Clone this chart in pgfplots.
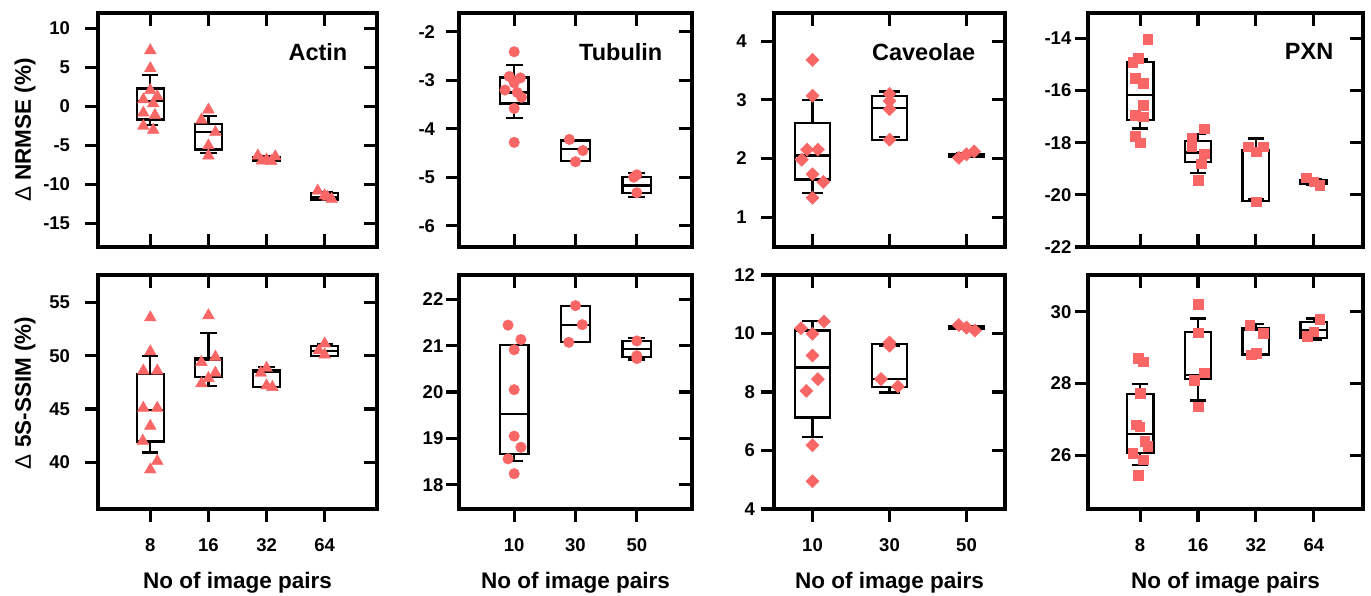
\documentclass[border=0pt]{standalone}
\usepackage{fontspec}
\setmainfont{Liberation Sans}
\usepackage{pgfplots}
\pgfplotsset{compat=1.18}
\usepgfplotslibrary{statistics}
\definecolor{pred}{RGB}{248,102,102}
\pgfplotsset{
 base/.style={
   scale only axis, anchor=south west, height=234pt, clip=false,
   line width=3.4pt,
   axis line style={line width=3.4pt, line cap=rect},
   every outer x axis line/.append style={line width=3.4pt},
   every outer y axis line/.append style={line width=3.4pt},
   tick style={black, line width=3.1pt},
   major tick length=13pt,
   ticklabel style={font=\fontsize{18.5}{20}\selectfont\bfseries, inner sep=2pt},
   /pgf/number format/assume math mode=true,
   boxplot/draw direction=y,
   boxplot/box extend=0.47, boxplot/whisker extend=0.28,
 },
 c1/.style={xmin=0.1,xmax=4.9,width=279pt,xtick={1,2,3,4}},
 c2/.style={xmin=0.1,xmax=3.9,width=233pt,xtick={1,2,3}},
 c3/.style={xmin=0.5,xmax=3.5,width=231pt,xtick={1,2,3}},
 c4/.style={xmin=0.1,xmax=4.85,width=275pt,xtick={1,2,3,4}},
 mainTop/.style={ytick pos=left, tick align=outside, xmajorticks=false, xticklabels={}},
 mainBot/.style={ytick pos=left, xtick pos=lower, tick align=outside, xticklabel style={yshift=-13pt}},
 ovrTop/.style={tick align=inside, xtick pos=both, ytick pos=right, xticklabels={}, yticklabels={}},
 ovrBot/.style={tick align=inside, xtick pos=upper, ytick pos=right, xticklabels={}, yticklabels={}},
 pts/.style={only marks, color=pred, line width=0.4pt, mark options={solid, fill=pred, draw=pred, line width=0.4pt}},
 tri/.style={pts, mark=triangle*, mark size=6.8pt},
 cir/.style={pts, mark=*, mark size=5.3pt},
 dia/.style={pts, mark=square*, mark size=4.7pt, mark options={rotate=45}},
 sqr/.style={pts, mark=square*, mark size=4.8pt},
 boxst/.style={draw=black, line width=2.2pt, mark=none, solid},
}
\newcommand{\bx}[6]{\addplot[boxst, boxplot prepared={draw position=#1, lower whisker=#2, lower quartile=#3, median=#4, upper quartile=#5, upper whisker=#6}] coordinates {};}
\newcommand{\ttl}[1]{\node[anchor=north east, inner sep=0pt, font=\fontsize{23.5}{25}\selectfont\bfseries, xshift=-28pt, yshift=-29pt] at (rel axis cs:1,1) {#1};}
\begin{document}
\begin{tikzpicture}
\path[use as bounding box] (0,0) rectangle (1371pt,595pt);
% ---------------- Panel 1: Actin NRMSE
\begin{axis}[base, c1, mainTop, at={(98pt,348pt)}, ymin=-18, ymax=12, ytick={-15,-10,-5,0,5,10}, yticklabel style={xshift=-11.3pt}]
\addplot[tri] coordinates {(1.00,7.2) (1.00,4.9) (1.00,2.1) (1.12,1.3) (0.88,0.9) (1.05,0.4) (0.88,-0.8) (1.08,-1.1) (0.88,-2.5) (1.05,-3.0)};
\addplot[tri] coordinates {(2.0,-0.4) (1.88,-1.7) (2.12,-3.3) (2.0,-5.0) (2.0,-6.3)};
\addplot[tri] coordinates {(2.85,-6.3) (3.0,-6.8) (3.15,-6.4) (3.08,-7.0) (2.92,-6.95)};
\addplot[tri] coordinates {(3.88,-10.8) (4.0,-11.4) (4.12,-11.85) (4.05,-11.6)};
\bx{1}{-2.37}{-1.65}{0.7}{2.32}{4.03}
\bx{2}{-5.9}{-5.49}{-3.27}{-2.2}{-1.22}
\bx{3}{-7.1}{-7.0}{-6.8}{-6.5}{-6.4}
\bx{4}{-11.95}{-11.9}{-11.55}{-11.1}{-11.0}
\ttl{Actin}
\end{axis}
\begin{axis}[base, c1, ovrTop, at={(98pt,348pt)}, ymin=-18, ymax=12, ytick={-15,-10,-5,0,5,10}]
\end{axis}
% ---------------- Panel 2: Tubulin NRMSE
\begin{axis}[base, c2, mainTop, at={(459pt,348pt)}, ymin=-6.44, ymax=-1.61, ytick={-6,-5,-4,-3,-2}, yticklabel style={xshift=-7.3pt}]
\addplot[cir] coordinates {(1.0,-2.41) (0.92,-2.92) (1.1,-2.95) (1.0,-3.05) (0.85,-3.2) (1.05,-3.25) (1.12,-3.35) (1.0,-3.58) (1.0,-4.28)};
\addplot[cir] coordinates {(1.9,-4.22) (2.12,-4.45) (2.0,-4.68)};
\addplot[cir] coordinates {(3.0,-4.95) (2.95,-5.0) (3.0,-5.32)};
\bx{1}{-3.78}{-3.48}{-3.25}{-2.94}{-2.69}
\bx{2}{-4.67}{-4.67}{-4.41}{-4.24}{-4.24}
\bx{3}{-5.40}{-5.33}{-5.17}{-4.99}{-4.92}
\ttl{Tubulin}
\end{axis}
\begin{axis}[base, c2, ovrTop, at={(459pt,348pt)}, ymin=-6.44, ymax=-1.61, ytick={-6,-5,-4,-3,-2}]
\end{axis}
% ---------------- Panel 3: Caveolae NRMSE
\begin{axis}[base, c3, mainTop, at={(774pt,348pt)}, ymin=0.49, ymax=4.48, ytick={1,2,3,4}, yticklabel style={xshift=-10.7pt}, boxplot/box extend=0.45, boxplot/whisker extend=0.26]
\addplot[dia] coordinates {(1.0,3.68) (1.0,3.07) (0.93,2.15) (1.07,2.15) (0.86,1.98) (1.0,1.73) (1.14,1.6) (1.0,1.33)};
\addplot[dia] coordinates {(2.0,3.1) (2.0,2.98) (2.0,2.84) (2.0,2.32)};
\addplot[dia] coordinates {(2.9,2.01) (3.0,2.07) (3.1,2.12)};
\bx{1}{1.41}{1.64}{2.05}{2.6}{2.99}
\bx{2}{2.36}{2.32}{2.86}{3.07}{3.14}
\bx{3}{2.02}{2.03}{2.06}{2.08}{2.09}
\ttl{Caveolae}
\end{axis}
\begin{axis}[base, c3, ovrTop, at={(774pt,348pt)}, ymin=0.49, ymax=4.48, ytick={1,2,3,4}]
\end{axis}
% ---------------- Panel 4: PXN NRMSE
\begin{axis}[base, c4, mainTop, at={(1088pt,348pt)}, ymin=-22, ymax=-13.03, ytick={-22,-20,-18,-16,-14}, yticklabel style={xshift=0pt}, boxplot/box extend=0.46]
\addplot[sqr] coordinates {(1.13,-14.03) (0.87,-14.92) (0.97,-14.77) (0.91,-15.54) (1.05,-15.73) (1.05,-16.56) (0.91,-16.95) (1.05,-17.0) (0.91,-17.75) (1.0,-18.0)};
\addplot[sqr] coordinates {(2.11,-17.46) (1.89,-17.84) (1.89,-18.16) (2.11,-18.42) (2.05,-18.8) (2.0,-19.44)};
\addplot[sqr] coordinates {(2.87,-18.16) (3.13,-18.16) (3.0,-18.35) (3.0,-20.27)};
\addplot[sqr] coordinates {(3.87,-19.35) (4.0,-19.5) (4.1,-19.62)};
\bx{1}{-17.46}{-17.14}{-16.18}{-14.9}{-14.81}
\bx{2}{-19.16}{-18.74}{-18.38}{-17.94}{-17.67}
\bx{3}{-20.15}{-20.25}{-18.33}{-18.29}{-17.84}
\bx{4}{-19.62}{-19.58}{-19.5}{-19.44}{-19.4}
\ttl{PXN}
\end{axis}
\begin{axis}[base, c4, ovrTop, at={(1088pt,348pt)}, ymin=-22, ymax=-13.03, ytick={-22,-20,-18,-16,-14}]
\end{axis}
% ---------------- Panel 5: Actin SSIM
\begin{axis}[base, c1, mainBot, at={(98pt,86pt)}, ymin=35.6, ymax=57.6, ytick={40,45,50,55}, xticklabels={8,16,32,64}, yticklabel style={xshift=-11.3pt}]
\addplot[tri] coordinates {(1.0,53.6) (1.0,50.4) (0.88,48.6) (1.12,48.6) (0.88,45.1) (1.12,45.1) (1.0,43.4) (0.87,42.0) (1.12,40.1) (1.0,39.3)};
\addplot[tri] coordinates {(2.0,53.8) (2.12,49.9) (1.88,49.4) (2.12,48.4) (2.0,47.9) (1.88,47.4)};
\addplot[tri] coordinates {(3.0,48.85) (2.9,48.4) (3.0,47.2) (3.1,47.05)};
\addplot[tri] coordinates {(4.0,51.15) (3.9,50.5) (4.0,50.1)};
\bx{1}{40.91}{41.94}{44.92}{48.27}{49.99}
\bx{2}{47.17}{47.98}{49.6}{49.83}{52.18}
\bx{3}{47.05}{47.05}{48.5}{48.67}{48.92}
\bx{4}{49.95}{49.99}{50.49}{50.93}{51.1}
\end{axis}
\begin{axis}[base, c1, ovrBot, at={(98pt,86pt)}, ymin=35.6, ymax=57.6, ytick={40,45,50,55}]
\end{axis}
% ---------------- Panel 6: Tubulin SSIM
\begin{axis}[base, c2, mainBot, at={(459pt,86pt)}, ymin=17.48, ymax=22.52, ytick={18,19,20,21,22}, xticklabels={10,30,50}, yticklabel style={xshift=1pt}]
\addplot[cir] coordinates {(0.9,21.44) (1.11,21.13) (1.0,20.91) (1.0,20.05) (1.0,19.05) (1.11,18.81) (0.9,18.56) (1.0,18.24)};
\addplot[cir] coordinates {(2.0,21.86) (2.11,21.45) (1.89,21.07)};
\addplot[cir] coordinates {(3.0,21.1) (3.0,20.78) (3.0,20.72)};
\bx{1}{18.52}{18.67}{19.53}{21.02}{21.02}
\bx{2}{21.07}{21.07}{21.45}{21.86}{21.86}
\bx{3}{20.70}{20.75}{20.92}{21.09}{21.16}
\end{axis}
\begin{axis}[base, c2, ovrBot, at={(459pt,86pt)}, ymin=17.48, ymax=22.52, ytick={18,19,20,21,22}]
\end{axis}
% ---------------- Panel 7: Caveolae SSIM
\begin{axis}[base, c3, mainBot, at={(774pt,86pt)}, ymin=4, ymax=12, ytick={4,6,8,10,12}, xticklabels={10,30,50}, yticklabel style={xshift=-2.3pt}, boxplot/box extend=0.45, boxplot/whisker extend=0.26]
\addplot[dia] coordinates {(0.85,10.18) (1.0,9.99) (1.15,10.41) (1.0,9.25) (1.07,8.44) (0.92,8.04) (1.0,6.18) (1.0,4.95)};
\addplot[dia] coordinates {(2.0,9.69) (1.89,8.44) (2.11,8.19) (2.0,9.58)};
\addplot[dia] coordinates {(2.9,10.29) (3.0,10.2) (3.11,10.1)};
\bx{1}{6.45}{7.13}{8.84}{10.1}{10.43}
\bx{2}{7.98}{8.17}{8.45}{9.64}{9.58}
\bx{3}{10.15}{10.17}{10.2}{10.24}{10.26}
\end{axis}
\begin{axis}[base, c3, ovrBot, at={(774pt,86pt)}, ymin=4, ymax=12, ytick={4,6,8,10,12}]
\end{axis}
% ---------------- Panel 8: PXN SSIM
\begin{axis}[base, c4, mainBot, at={(1088pt,86pt)}, ymin=24.51, ymax=31.02, ytick={26,28,30}, xticklabels={8,16,32,64}, yticklabel style={xshift=0pt}, boxplot/box extend=0.46]
\addplot[sqr] coordinates {(0.97,28.7) (1.05,28.61) (1.0,27.73) (0.93,26.85) (0.99,26.8) (1.08,26.39) (1.13,26.25) (0.87,26.06) (1.05,25.88) (0.97,25.45)};
\addplot[sqr] coordinates {(2.0,30.2) (2.0,29.42) (2.11,28.3) (1.93,28.1) (2.0,27.36)};
\addplot[sqr] coordinates {(2.89,29.63) (3.13,29.4) (3.0,28.84) (2.92,28.8)};
\addplot[sqr] coordinates {(4.1,29.79) (3.89,29.31) (4.0,29.44)};
\bx{1}{25.74}{26.06}{26.59}{27.7}{27.98}
\bx{2}{27.53}{28.12}{28.24}{29.44}{29.81}
\bx{3}{28.81}{28.81}{29.49}{29.54}{29.65}
\bx{4}{29.21}{29.26}{29.49}{29.72}{29.81}
\end{axis}
\begin{axis}[base, c4, ovrBot, at={(1088pt,86pt)}, ymin=24.51, ymax=31.02, ytick={26,28,30}]
\end{axis}
% ---------------- labels
\node[rotate=90, font=\fontsize{22.5}{24}\selectfont\bfseries] at (25pt,465pt) {{\mdseries Δ} NRMSE (\%)};
\node[rotate=90, font=\fontsize{22.5}{24}\selectfont\bfseries] at (25pt,202pt) {{\mdseries Δ} 5S-SSIM (\%)};
\foreach \cx in {237.5,575.5,889.5,1225.5}{
  \node[anchor=base, font=\fontsize{22.5}{24}\selectfont\bfseries] at (\cx pt,7pt) {No of image pairs};
}
\end{tikzpicture}
\end{document}
